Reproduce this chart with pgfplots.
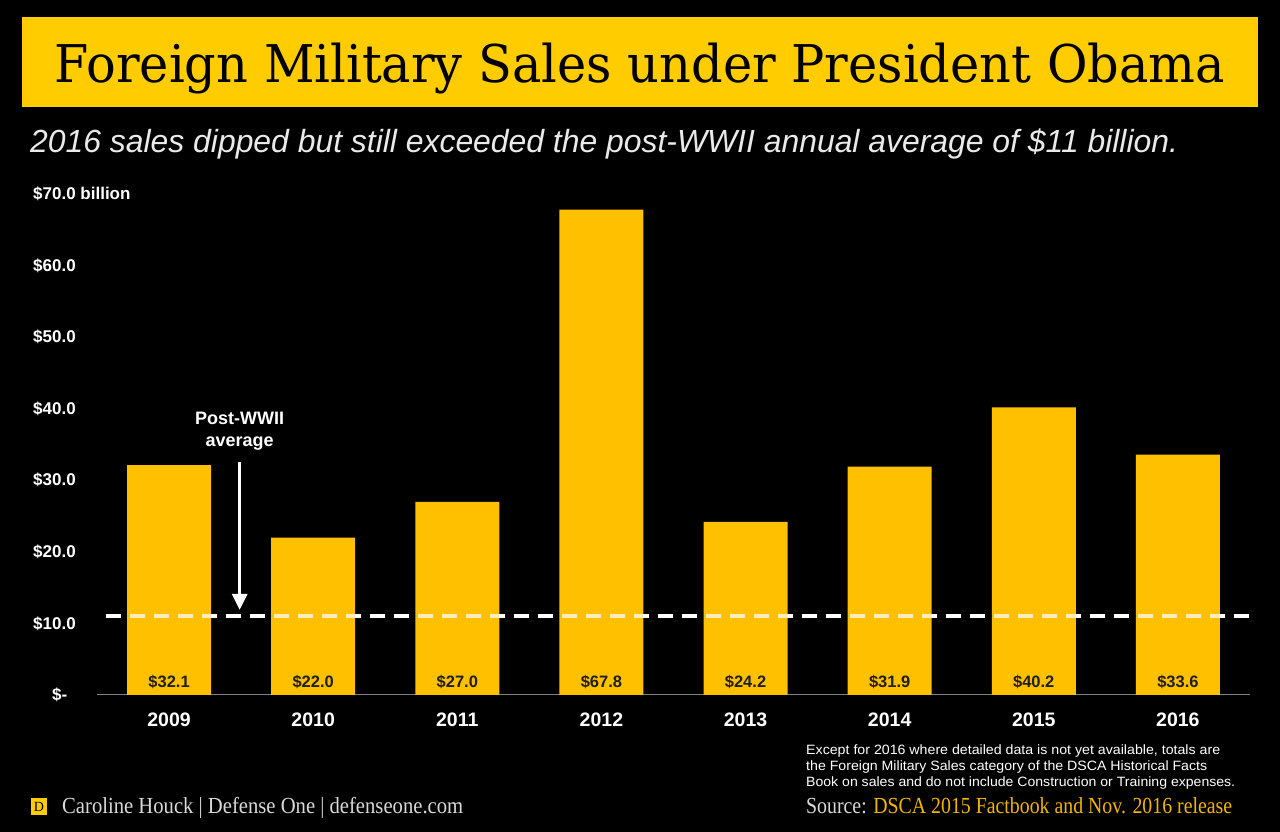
\documentclass[border=0pt]{standalone}
\usepackage{pgfplots}
\pgfplotsset{compat=1.18}
\usepackage{pgfplotstable}
\usepackage{fontspec}
\setmainfont{Liberation Sans}
\newfontfamily\titlefont{DejaVu Serif}
\newfontfamily\serfont{Liberation Serif}
\usetikzlibrary{arrows.meta,calc,backgrounds}
\definecolor{bargold}{HTML}{FFC000}
\definecolor{titlegold}{HTML}{FFCC00}
\definecolor{srcgold}{HTML}{F2B600}
\definecolor{subgray}{HTML}{EAEAEA}
\definecolor{footgray}{HTML}{D9D9D9}
\pgfplotstableread{
x y
0 32.1
1 22.0
2 27.0
3 67.8
4 24.2
5 31.9
6 40.2
7 33.6
}\salesdata
\begin{document}
\begin{tikzpicture}[x=1pt,y=1pt]
\begin{axis}[
  scale only axis, width=1153pt, height=501pt,
  xmin=-0.5, xmax=7.5, ymin=0, ymax=70,
  axis x line=bottom, axis y line=left,
  x axis line style={draw=gray, -, line width=1pt},
  y axis line style={draw=none},
  xtick={0,...,7},
  xticklabels={2009,2010,2011,2012,2013,2014,2015,2016},
  ytick={0,10,20,30,40,50,60,70},
  yticklabels={\hphantom{\$0}\$-,\$10.0,\$20.0,\$30.0,\$40.0,\$50.0,\$60.0,\$70.0 billion},
  major tick length=0pt,
  tick style={draw=none},
  xticklabel style={font=\fontsize{19.5}{20}\selectfont\bfseries, text=white, inner sep=0pt, anchor=north, yshift=-18pt},
  yticklabel style={font=\fontsize{17}{17}\selectfont\bfseries, text=white, inner sep=0pt, anchor=west, xshift=-64pt},
  /pgf/number format/assume math mode=true,
  clip=false,
]
\addplot[white, line width=4pt, dash pattern=on 15pt off 9pt] coordinates {(-0.44,11) (7.49,11)};
\addplot[ybar, bar width=84pt, fill=bargold, draw=none] table[x=x,y=y]{\salesdata};
\addplot[white, opacity=0.75, line width=4pt, dash pattern=on 15pt off 9pt] coordinates {(-0.44,11) (7.49,11)};
\addplot[draw=none, mark=none,
  nodes near coords={\$\pgfmathprintnumber[fixed,fixed zerofill,precision=1,assume math mode=true]{\pgfplotspointmeta}},
  point meta=explicit,
  nodes near coords style={anchor=base, inner sep=0pt, yshift=7pt, font=\fontsize{16.5}{16.5}\selectfont\bfseries, text=black!88}]
  table[x=x, y expr=0, meta=y]{\salesdata};
\draw[white, line width=3pt, -{Triangle[width=15pt,length=16pt]}] (axis cs:0.49,32.6) -- (axis cs:0.49,11.9);
\node[white, font=\fontsize{18}{18}\selectfont\bfseries] at (axis cs:0.49,38.7) {Post-WWII};
\node[white, font=\fontsize{18}{18}\selectfont\bfseries] at (axis cs:0.49,35.2) {average};
\coordinate (O) at (axis cs:-0.5,0);
\end{axis}
\begin{scope}[shift={($(O)-(97,137)$)}]
\begin{pgfonlayer}{background}
\fill[black] (0,0) rectangle (1280,832);
\fill[titlegold] (22,725) rectangle (1258,815);
\end{pgfonlayer}
\node[anchor=base, inner sep=0pt] at (640,749) {\resizebox{1170pt}{\height}{\fontsize{52}{52}\titlefont Foreign Military Sales under President Obama}};
\node[anchor=base west, inner sep=0pt, text=subgray] at (30,679) {\resizebox{1148pt}{\height}{\fontsize{32}{32}\selectfont\itshape 2016 sales dipped but still exceeded the post-WWII annual average of \$11 billion.}};
\node[anchor=base west, inner sep=0pt, text=white] at (806,77) {\resizebox{414pt}{\height}{\fontsize{13.5}{13.5}\selectfont Except for 2016 where detailed data is not yet available, totals are}};
\node[anchor=base west, inner sep=0pt, text=white] at (806,61) {\resizebox{401pt}{\height}{\fontsize{13.5}{13.5}\selectfont the Foreign Military Sales category of the DSCA Historical Facts}};
\node[anchor=base west, inner sep=0pt, text=white] at (806,45) {\resizebox{429pt}{\height}{\fontsize{13.5}{13.5}\selectfont Book on sales and do not include Construction or Training expenses.}};
\fill[titlegold] (31,17) rectangle (47,34);
\node[inner sep=0pt, text=black] at (39,25.5) {\fontsize{14}{14}\serfont D};
\node[anchor=base west, inner sep=0pt, text=footgray] at (62,18) {\resizebox{401pt}{\height}{\fontsize{23}{23}\serfont Caroline Houck | Defense One | defenseone.com}};
\node[anchor=base west, inner sep=0pt] at (806,18) {\resizebox{426pt}{\height}{\fontsize{23}{23}\serfont\textcolor{footgray}{Source:} \textcolor{srcgold}{DSCA 2015 Factbook and Nov. 2016 release}}};
\end{scope}
\end{tikzpicture}
\end{document}
